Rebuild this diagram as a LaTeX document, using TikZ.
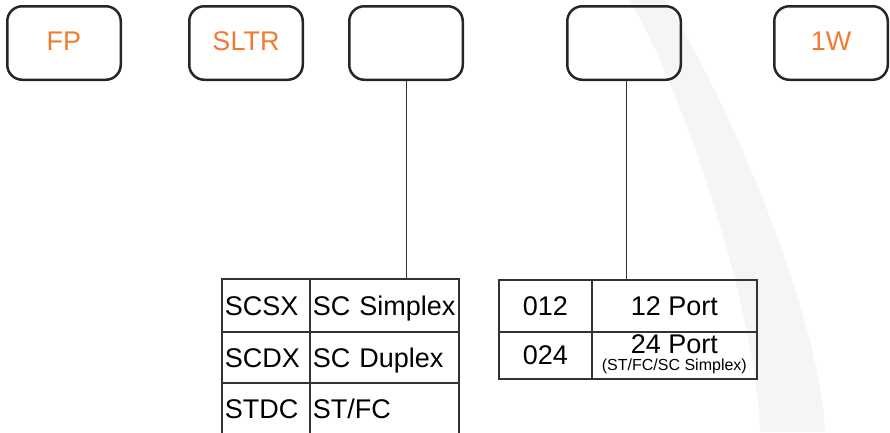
\documentclass[tikz,border=0pt]{standalone}
\usepackage{fontspec}
\setmainfont{Liberation Sans}
\usetikzlibrary{matrix}
\definecolor{codeorange}{RGB}{242,122,48}
\colorlet{boxline}{black!85}
\colorlet{tabline}{black!80}
\colorlet{swoosh}{black!4}
\newcommand{\bigfont}{\fontsize{27}{17}\selectfont}
\newcommand{\tinyfont}{\fontsize{16}{15}\selectfont}
\newcommand{\portlong}{\begin{tabular}{@{}c@{}}24 Port\\{\tinyfont (ST/FC/SC Simplex)}\end{tabular}}

\begin{document}
\begin{tikzpicture}[x=1pt,y=-1pt,
	code/.style={draw=boxline,line width=2.5pt,rounded corners=15pt,%
		minimum width=113.5pt,minimum height=73.5pt,inner sep=0pt,%
		text=codeorange,font=\bigfont,text depth=3pt},
	cell/.style={draw=tabline,line width=1.3pt,outer sep=0pt,inner sep=0pt,%
		anchor=center,font=\bigfont},
	link/.style={draw=black!80,line width=1pt}
	]
	\useasboundingbox (0,0) rectangle (890,432);
	\clip (0,0) rectangle (890,432);

	% background band
	\fill[swoosh] (630,0) .. controls (695,115) and (758,330) .. (760,432)
		-- (825,432) .. controls (822,330) and (740,120) .. (665,0) -- cycle;

	\node[code] (fp) at (64,43) {FP};
	\node[code] (sltr) at (246,43) {SLTR};
	\node[code] (connbox) at (406,43) {};
	\node[code] (portbox) at (624,43) {};
	\node[code] (wall) at (831,43) {1W};

	\matrix (conntab) [matrix of nodes,anchor=north west,inner sep=0pt,%
	column sep=-1.3pt,row sep=-1.3pt,%
	nodes={cell,align=left,text height=19.5pt,text depth=0pt},%
	column 1/.style={nodes={minimum width=88pt,text width=82pt}},%
	column 2/.style={nodes={minimum width=149pt,text width=143pt}},%
	row 1/.style={nodes={minimum height=53pt}},%
	row 2/.style={nodes={minimum height=51pt}},%
	row 3/.style={nodes={minimum height=52pt}}]%
	at (221,278)
	{
		SCSX & SC Simplex \\
		SCDX & SC Duplex \\
		STDC & ST/FC \\
	};

	\matrix (porttab) [matrix of nodes,anchor=north west,inner sep=0pt,%
	column sep=-1.3pt,row sep=-1.3pt,%
	nodes={cell},%
	column 1/.style={nodes={minimum width=93pt}},%
	column 2/.style={nodes={minimum width=165pt}},%
	row 1/.style={nodes={minimum height=52pt}},%
	row 2/.style={nodes={minimum height=47pt}}]%
	at (498,279)
	{
		012 & 12 Port \\
		024 & \portlong \\
	};

	\draw[link] (connbox.south) -- (connbox.south |- conntab.north);
	\draw[link] ([xshift=2pt]portbox.south) -- ([xshift=2pt]portbox.south |- porttab.north);
\end{tikzpicture}
\end{document}
